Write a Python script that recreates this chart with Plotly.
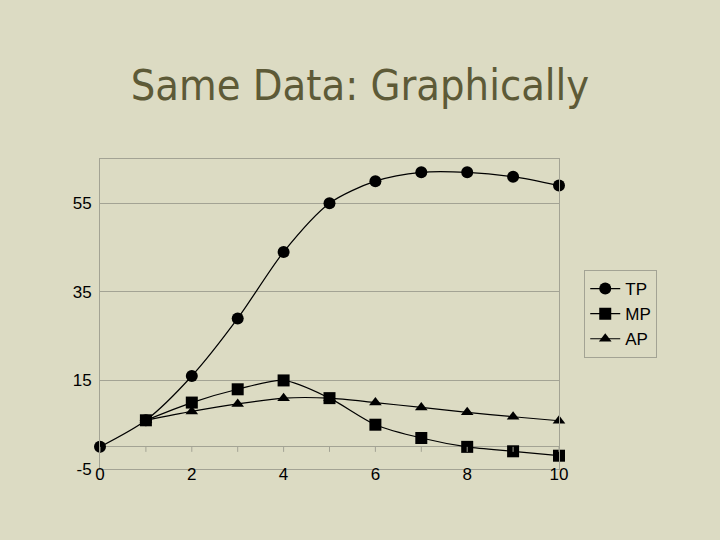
import plotly.graph_objects as go

# Labour input (x) and product measures
labour = [0, 1, 2, 3, 4, 5, 6, 7, 8, 9, 10]
tp = [0, 6, 16, 29, 44, 55, 60, 62, 62, 61, 59]
mp = [None, 6, 10, 13, 15, 11, 5, 2, 0, -1, -2]
ap = [None, 6, 8, 9.7, 11, 11, 10, 8.9, 7.8, 6.8, 5.9]

y_ticks = [-5, 15, 35, 55]
y_labels = ["-5", "15", "35", "55"]
x_ticks = [0, 2, 4, 6, 8, 10]

bg = "#dcdbc3"
grid = "#a3a394"

fig = go.Figure()
series = [("TP", tp, "circle", 12), ("MP", mp, "square", 12), ("AP", ap, "triangle-up", 11)]
for name, vals, sym, size in series:
    fig.add_trace(go.Scatter(
        x=labour, y=vals, name=name, mode="lines+markers",
        line=dict(color="black", width=1.2, shape="spline", smoothing=0.8),
        marker=dict(symbol=sym, size=size, color="black"),
        cliponaxis=False))

# small tick marks on the category axis which crosses at y=0
for xt in labour:
    fig.add_shape(type="line", xref="x", yref="y", x0=xt, x1=xt,
                  ysizemode="pixel", yanchor=0, y0=0, y1=-5,
                  line=dict(color=grid, width=1))

fig.update_layout(
    width=720, height=540,
    paper_bgcolor=bg, plot_bgcolor=bg,
    margin=dict(l=100, r=161, t=159, b=71),
    title=dict(text="Same Data: Graphically", x=0.5, xref="container",
               y=0.842, yref="container", yanchor="middle", xanchor="center",
               font=dict(family="DejaVu Sans Condensed, DejaVu Sans", size=43, color="#5d5a37")),
    font=dict(family="Liberation Sans, Arial", size=17, color="black"),
    legend=dict(x=1.055, y=0.5, xanchor="left", yanchor="middle",
                bgcolor=bg, bordercolor=grid, borderwidth=1,
                font=dict(size=17), itemwidth=30, tracegroupgap=0),
    showlegend=True,
)
fig.update_xaxes(range=[0, 10], tickvals=x_ticks, showgrid=False, zeroline=False,
                 showline=True, mirror=True, linecolor=grid, linewidth=1,
                 ticks="", ticklabelstandoff=-10)
fig.update_yaxes(range=[-5, 65], tickvals=y_ticks, ticktext=y_labels,
                 showgrid=True, gridcolor=grid,
                 gridwidth=1, zeroline=True, zerolinecolor=grid, zerolinewidth=1,
                 showline=True, mirror=True, linecolor=grid, linewidth=1,
                 ticks="", ticklabelstandoff=4)

fig.write_html("out.html", config={"displayModeBar": False},
               post_script="document.body.style.margin='0';"
                           "document.body.style.background='%s';" % bg)
